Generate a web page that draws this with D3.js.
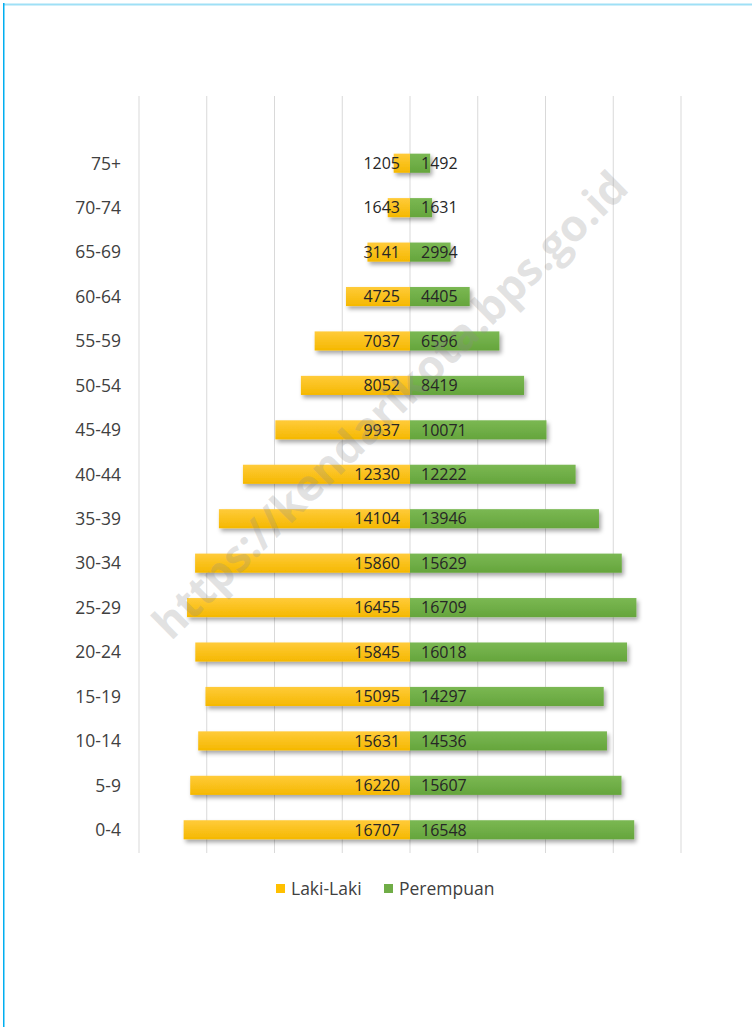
<!doctype html>
<html>
<head>
<meta charset="utf-8"/>
<title>Piramida Penduduk</title>
<script src="https://d3js.org/d3.v7.min.js"></script>
<style>
body { margin:0; background:#fff; }
text { font-family: "Open Sans", "Noto Sans", sans-serif; }
</style>
</head>
<body>
<script type="text/javascript">
// data
var umur = ["0-4","5-9","10-14","15-19","20-24","25-29","30-34","35-39","40-44","45-49","50-54","55-59","60-64","65-69","70-74","75+"];
var laki = [16707,16220,15631,15095,15845,16455,15860,14104,12330,9937,8052,7037,4725,3141,1643,1205];
var perempuan = [16548,15607,14536,14297,16018,16709,15629,13946,12222,10071,8419,6596,4405,2994,1631,1492];
var gridTicks = [-20000,-15000,-10000,-5000,0,5000,10000,15000,20000];
var seri = ["Laki-Laki","Perempuan"];

var W = 752, H = 1027;
var svg = d3.select("body").append("svg")
    .attr("width", W).attr("height", H);

var defs = svg.append("defs");
function grad(id, c1, c2) {
    var g = defs.append("linearGradient").attr("id", id)
        .attr("x1", 0).attr("y1", 0).attr("x2", 0).attr("y2", 1);
    g.append("stop").attr("offset", "0%").attr("stop-color", c1);
    g.append("stop").attr("offset", "100%").attr("stop-color", c2);
}
grad("gLaki", "#ffcb3a", "#f5b800");
grad("gPer", "#7bb853", "#65a53c");
var f = defs.append("filter").attr("id", "shadow")
    .attr("x", "-10%").attr("y", "-40%").attr("width", "130%").attr("height", "200%");
f.append("feDropShadow").attr("dx", 2).attr("dy", 3).attr("stdDeviation", 2)
    .attr("flood-color", "#000").attr("flood-opacity", 0.35);

// frame lines
svg.append("line").attr("x1", 3).attr("x2", W).attr("y1", 4.5).attr("y2", 4.5)
    .attr("stroke", "#9fe0f6").attr("stroke-width", 2);
svg.append("line").attr("x1", 3.75).attr("x2", 3.75).attr("y1", 3).attr("y2", H)
    .attr("stroke", "#00aef0").attr("stroke-width", 1.5);

var x = d3.scaleLinear().domain([-20000, 20000]).range([139, 681]);
var y = d3.scaleBand().domain(umur.slice().reverse()).range([141, 852]).paddingInner(0.57).paddingOuter(0.285);

// gridlines
svg.append("g").selectAll("line").data(gridTicks).enter().append("line")
    .attr("x1", function(d){ return x(d); }).attr("x2", function(d){ return x(d); })
    .attr("y1", 96).attr("y2", 853)
    .attr("stroke", "#d9d9d9").attr("stroke-width", 1);

// bars
var bars = svg.append("g").attr("filter", "url(#shadow)");
bars.selectAll("rect.l").data(umur).enter().append("rect")
    .attr("x", function(d,i){ return x(-laki[i]); })
    .attr("y", function(d){ return y(d); })
    .attr("width", function(d,i){ return x(0) - x(-laki[i]); })
    .attr("height", y.bandwidth())
    .attr("fill", "url(#gLaki)");
bars.selectAll("rect.p").data(umur).enter().append("rect")
    .attr("x", x(0))
    .attr("y", function(d){ return y(d); })
    .attr("width", function(d,i){ return x(perempuan[i]) - x(0); })
    .attr("height", y.bandwidth())
    .attr("fill", "url(#gPer)");

// value labels
svg.append("g").selectAll("text").data(umur).enter().append("text")
    .attr("x", x(0) - 10)
    .attr("y", function(d){ return y(d) + y.bandwidth()/2; })
    .attr("dy", "0.36em").attr("text-anchor", "end")
    .attr("font-size", 16).attr("fill", "#262626")
    .text(function(d,i){ return laki[i]; });
svg.append("g").selectAll("text").data(umur).enter().append("text")
    .attr("x", x(0) + 11)
    .attr("y", function(d){ return y(d) + y.bandwidth()/2; })
    .attr("dy", "0.36em").attr("text-anchor", "start")
    .attr("font-size", 16).attr("fill", "#262626")
    .text(function(d,i){ return perempuan[i]; });

// category labels
svg.append("g").selectAll("text").data(umur).enter().append("text")
    .attr("x", 121)
    .attr("y", function(d){ return y(d) + y.bandwidth()/2; })
    .attr("dy", "0.36em").attr("text-anchor", "end")
    .attr("font-size", 17.5).attr("fill", "#404040")
    .text(function(d){ return d; });

// legend
var warna = ["#ffc000", "#70ad47"];
var lx = [276, 384];
var leg = svg.append("g");
seri.forEach(function(s, i){
    leg.append("rect").attr("x", lx[i]).attr("y", 884).attr("width", 9).attr("height", 9)
        .attr("fill", warna[i]);
    leg.append("text").attr("x", lx[i] + 15).attr("y", 889).attr("dy", "0.36em")
        .attr("font-size", 17.5).attr("fill", "#404040").text(s);
});

// watermark
svg.append("text")
    .attr("transform", "translate(390,405) rotate(-44.5)")
    .attr("text-anchor", "middle").attr("dy", "0.35em")
    .attr("font-size", 44).attr("font-weight", "bold")
    .attr("fill", "#8c8c8c").attr("fill-opacity", 0.25)
    .text("https://kendarikota.bps.go.id");
</script>
</body>
</html>
